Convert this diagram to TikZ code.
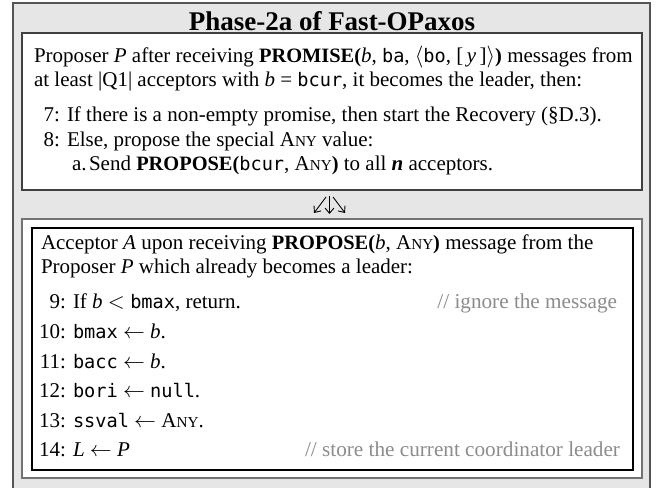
\documentclass[tikz,border=0pt]{standalone}
\usepackage{fontspec}
\usetikzlibrary{arrows.meta}
\setmainfont{Liberation Serif}
\newfontfamily\codefont{DejaVu Sans Mono}
\definecolor{panelgray}{HTML}{E6E6E6}
\definecolor{framegray}{HTML}{555555}
\definecolor{notegray}{HTML}{8C8C8C}
\newcommand{\code}[1]{{\codefont\fontsize{9.3}{10}\selectfont #1}}
\newcommand{\kw}[1]{{\bfseries\fontsize{10.2}{12}\selectfont #1}}
\newcommand{\Any}{A{\fontsize{7.6}{9}\selectfont NY}}
\begin{document}
\begin{tikzpicture}[x=0.5pt,y=-0.5pt,
  every node/.style={inner sep=0pt,outer sep=0pt},
  body/.style={anchor=base west,font=\fontsize{10.5}{12}\selectfont},
  lineno/.style={anchor=base east,font=\fontsize{10.5}{12}\selectfont},
  note/.style={anchor=base east,text=notegray,font=\fontsize{10.6}{12}\selectfont},
  panel/.style={draw=framegray,fill=panelgray,line width=0.75pt},
  phasebox/.style={draw=black!75,fill=white,line width=0.6pt},
  outerframe/.style={draw=black!55,fill=white,line width=1pt},
  innerframe/.style={draw=black,line width=0.6pt},
  fanarrow/.style={line width=0.45pt,-{Straight Barb[length=2.6pt,width=4.4pt]}}]
\useasboundingbox (0,0) rectangle (658,487);
\clip (0,0) rectangle (658,487);
% background panel and the two boxes
\draw[panel] (13,3) rectangle (650,500);
\draw[phasebox] (22,33) rectangle (642,190);
\draw[outerframe] (22,219) rectangle (642,478);
\draw[innerframe] (32,228) rectangle (633,470);
% title
\node[anchor=base,font=\fontsize{13.5}{15}\bfseries\selectfont] (title) at (332,30) {Phase-2a of Fast-OPaxos};
% proposer part
\node[body] (p1) at (34,62) {Proposer \textit{P} after receiving \kw{PROMISE(}\textit{b}, \code{ba}, $\langle$\code{bo}, [\,\textit{y}\,]$\rangle$\kw{)} messages from};
\node[body] (p2) at (34,86) {at least |Q1| acceptors with \textit{b} = \code{bcur}, it becomes the leader, then:};
\node[lineno] (n7) at (60,121) {7:};
\node[body] (s7) at (67,121) {If there is a non-empty promise, then start the Recovery (§D.3).};
\node[lineno] (n8) at (60,146) {8:};
\node[body] (s8) at (67,146) {Else, propose the special \Any{} value:};
\node[body] (na) at (72,170) {a.};
\node[body] (sa) at (89,170) {Send \kw{PROPOSE(}\code{bcur}, \Any\kw{)} to all \textbf{\textit{n}} acceptors.};
% fan-out arrows between the parts
\coordinate (fanLs) at (326,197);
\coordinate (fanLe) at (314,213);
\coordinate (fanMs) at (329.5,196);
\coordinate (fanMe) at (329.5,214);
\coordinate (fanRs) at (333,197);
\coordinate (fanRe) at (345,213);
\draw[fanarrow] (fanLs) -- (fanLe);
\draw[fanarrow] (fanMs) -- (fanMe);
\draw[fanarrow] (fanRs) -- (fanRe);
% acceptor part
\node[body] (a1) at (41,249) {Acceptor \textit{A} upon receiving \kw{PROPOSE(}\textit{b}, \Any\kw{)} message from the};
\node[body] (a2) at (41,273) {Proposer \textit{P} which already becomes a leader:};
\node[lineno] (n9) at (66,308) {9:};
\node[body] (s9) at (73,308) {If \textit{b} $<$ \code{bmax}, return.};
\node[note] (c9) at (617,308) {// ignore the message};
\node[lineno] (n10) at (66,338) {10:};
\node[body] (s10) at (73,338) {\code{bmax} $\leftarrow$ \textit{b}.};
\node[lineno] (n11) at (66,368) {11:};
\node[body] (s11) at (73,368) {\code{bacc} $\leftarrow$ \textit{b}.};
\node[lineno] (n12) at (66,397) {12:};
\node[body] (s12) at (73,397) {\code{bori} $\leftarrow$ \code{null}.};
\node[lineno] (n13) at (66,427) {13:};
\node[body] (s13) at (73,427) {\code{ssval} $\leftarrow$ \Any.};
\node[lineno] (n14) at (66,456) {14:};
\node[body] (s14) at (73,456) {\textit{L} $\leftarrow$ \textit{P}};
\node[note] (c14) at (620,456) {// store the current coordinator leader};
\end{tikzpicture}
\end{document}
